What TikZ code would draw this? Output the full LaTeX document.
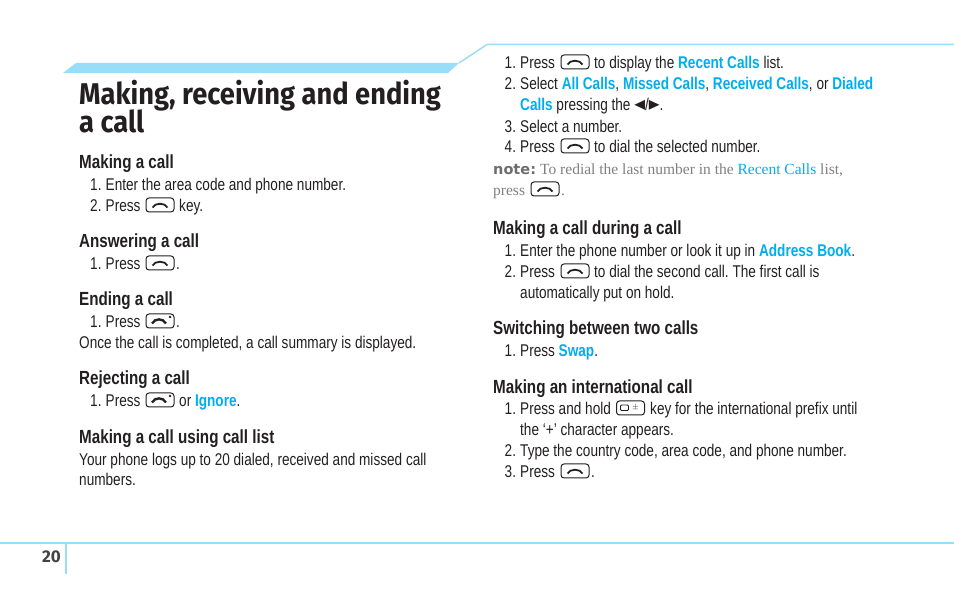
\documentclass[tikz,border=0pt]{standalone}
\usepackage{fontspec}
\setmainfont{Liberation Sans}
\newfontfamily\bodyfont[FakeStretch=0.8]{Liberation Sans}
\newfontfamily\titlefont[FakeStretch=0.91]{Fira Sans}
\newfontfamily\pagefont{Fira Sans}
\newfontfamily\notefont{Liberation Serif}
\newfontfamily\labelfont{DejaVu Sans}
\newfontfamily\arrowfont[FakeStretch=0.7]{DejaVu Sans}
\definecolor{linkblue}{HTML}{00AEEF}
\definecolor{bandblue}{HTML}{99DEF8}
\definecolor{inkgrey}{HTML}{231F20}
\definecolor{notegrey}{HTML}{808080}
\frenchspacing
\newcommand{\lnk}[1]{\textcolor{linkblue}{\bfseries #1}}
\newcommand{\num}[1]{\makebox[15.5pt][l]{#1}}

\tikzset{
  bodytext/.style={inner sep=0pt, anchor=base west, yshift=-0.7pt, text=inkgrey, font=\bodyfont\fontsize{17}{18}\selectfont},
  headtext/.style={inner sep=0pt, anchor=base west, yshift=-0.7pt, text=inkgrey, font=\bodyfont\bfseries\fontsize{19}{22}\selectfont},
  titletext/.style={inner sep=0pt, anchor=base west, text=inkgrey, font=\titlefont\bfseries\fontsize{30}{32}\selectfont},
  notetext/.style={inner sep=0pt, anchor=base west, yshift=-0.7pt, text=notegrey, font=\notefont\fontsize{15.5}{18}\selectfont},
  rule/.style={draw=bandblue, line width=1.5pt},
  keyframe/.style={draw=inkgrey, line width=1pt, rounded corners=3pt},
  sendkey/.pic={
    \draw[keyframe] (-14,-7) rectangle (14,7);
    \draw[inkgrey, line width=1.8pt] (-7.5,2.5) .. controls (-5,-2.5) and (5,-2.5) .. (7.5,2.5);
  },
  endkey/.pic={
    \draw[keyframe] (-14,-7) rectangle (14,7);
    \draw[inkgrey, line width=2.4pt] (-8,2.5) .. controls (-5,-3) and (3,-3) .. (6,2.5);
    \fill[inkgrey] (10,-4) circle (1.4pt);
  },
  zerokey/.pic={
    \draw[keyframe] (-14,-7) rectangle (14,7);
    \draw[inkgrey, line width=0.8pt, rounded corners=1pt] (-10,-3) rectangle (-2,2.5);
    \node[inner sep=0pt, text=inkgrey, font=\fontsize{8}{8}\selectfont] (zeroplus) at (5,0) {$\pm$};
  }
}

\begin{document}
\begin{tikzpicture}[x=1pt, y=-1pt]
  \useasboundingbox (0,0) rectangle (954,593);
  % Top band and rules
  \fill[bandblue] (76,63) -- (459,63) -- (448,73) -- (63,73) -- cycle;
  \coordinate (bandend) at (459,63);
  \coordinate (bendtop) at (487,44.5);
  \coordinate (topend) at (954,44.5);
  \draw[rule] (bandend) -- (bendtop) -- (topend);
  \coordinate (footleft) at (0,543);
  \coordinate (footright) at (954,543);
  \coordinate (footup) at (66,543);
  \coordinate (footdown) at (66,574);
  \draw[rule, line width=2pt] (footleft) -- (footright);
  \draw[rule, line width=2pt] (footup) -- (footdown);
  \node[inner sep=0pt, anchor=base west, text=inkgrey!85, font=\pagefont\bfseries\fontsize{17}{18}\selectfont] (pagenum) at (42,563) {20};

  % Left column
  \node[titletext] (title1) at (79,105) {Making, receiving and ending};
  \node[titletext] (title2) at (79,133) {a call};

  \node[headtext] (makehead) at (79,168) {Making a call};
  \node[bodytext] (make1) at (90,190) {\num{1.}Enter the area code and phone number.};
  \node[bodytext] (make2) at (90,211) {\num{2.}Press};
  \pic (makekey) at (160,205) {sendkey};
  \node[bodytext] (make2b) at (179,211) {key.};

  \node[headtext] (answerhead) at (79,247) {Answering a call};
  \node[bodytext] (answer1) at (90,269) {\num{1.}Press};
  \pic (answerkey) at (160,263) {sendkey};
  \node[bodytext] (answer1b) at (176,269) {.};

  \node[headtext] (endhead) at (79,305) {Ending a call};
  \node[bodytext] (end1) at (90,327) {\num{1.}Press};
  \pic (endkey) at (160,321) {endkey};
  \node[bodytext] (end1b) at (176,327) {.};
  \node[bodytext] (end2) at (79,348) {Once the call is completed, a call summary is displayed.};

  \node[headtext] (rejecthead) at (79,384) {Rejecting a call};
  \node[bodytext] (reject1) at (90,406) {\num{1.}Press};
  \pic (rejectkey) at (160,400) {endkey};
  \node[bodytext] (reject1b) at (179,406) {or \lnk{Ignore}.};

  \node[headtext] (loghead) at (79,443) {Making a call using call list};
  \node[bodytext] (log1) at (79,465) {Your phone logs up to 20 dialed, received and missed call};
  \node[bodytext] (log2) at (79,485) {numbers.};

  % Right column
  \node[bodytext] (recent1) at (504.5,68) {\num{1.}Press};
  \pic (recentkey) at (575,62) {sendkey};
  \node[bodytext] (recent1b) at (594,68) {to display the \lnk{Recent Calls} list.};
  \node[bodytext] (recent2) at (504.5,89) {\num{2.}Select \lnk{All Calls}, \lnk{Missed Calls}, \lnk{Received Calls}, or \lnk{Dialed}};
  \node[bodytext] (recent2b) at (520,110) {\lnk{Calls} pressing the {\arrowfont\fontsize{20}{20}\selectfont ◄}/{\arrowfont\fontsize{20}{20}\selectfont ►}.};
  \node[bodytext] (recent3) at (504.5,132) {\num{3.}Select a number.};
  \node[bodytext] (recent4) at (504.5,152) {\num{4.}Press};
  \pic (dialkey) at (575,146) {sendkey};
  \node[bodytext] (recent4b) at (594,152) {to dial the selected number.};
  \node[notetext, text=notegrey!85!black, font=\labelfont\bfseries\fontsize{14.5}{18}\selectfont] (notelabel) at (493,174) {note:};
  \node[notetext] (note1) at (540,174) {To redial the last number in the \textcolor{linkblue}{Recent Calls} list,};
  \node[notetext] (note2) at (493,195) {press};
  \pic (notekey) at (545,189) {sendkey};
  \node[notetext] (note2b) at (561,195) {.};

  \node[headtext] (duringhead) at (493,234) {Making a call during a call};
  \node[bodytext] (during1) at (504.5,256) {\num{1.}Enter the phone number or look it up in \lnk{Address Book}.};
  \node[bodytext] (during2) at (504.5,277) {\num{2.}Press};
  \pic (duringkey) at (575,271) {sendkey};
  \node[bodytext] (during2b) at (594,277) {to dial the second call. The first call is};
  \node[bodytext] (during3) at (520,298) {automatically put on hold.};

  \node[headtext] (switchhead) at (493,334) {Switching between two calls};
  \node[bodytext] (switch1) at (504.5,356) {\num{1.}Press \lnk{Swap}.};

  \node[headtext] (inthead) at (493,393) {Making an international call};
  \node[bodytext] (int1) at (504.5,414) {\num{1.}Press and hold};
  \pic (intkey) at (630.5,408) {zerokey};
  \node[bodytext] (int1b) at (650,414) {key for the international prefix until};
  \node[bodytext] (int2) at (520,435) {the ‘+’ character appears.};
  \node[bodytext] (int3) at (504.5,456) {\num{2.}Type the country code, area code, and phone number.};
  \node[bodytext] (int4) at (504.5,477) {\num{3.}Press};
  \pic (int4key) at (575,471) {sendkey};
  \node[bodytext] (int4b) at (591,477) {.};
\end{tikzpicture}
\end{document}
